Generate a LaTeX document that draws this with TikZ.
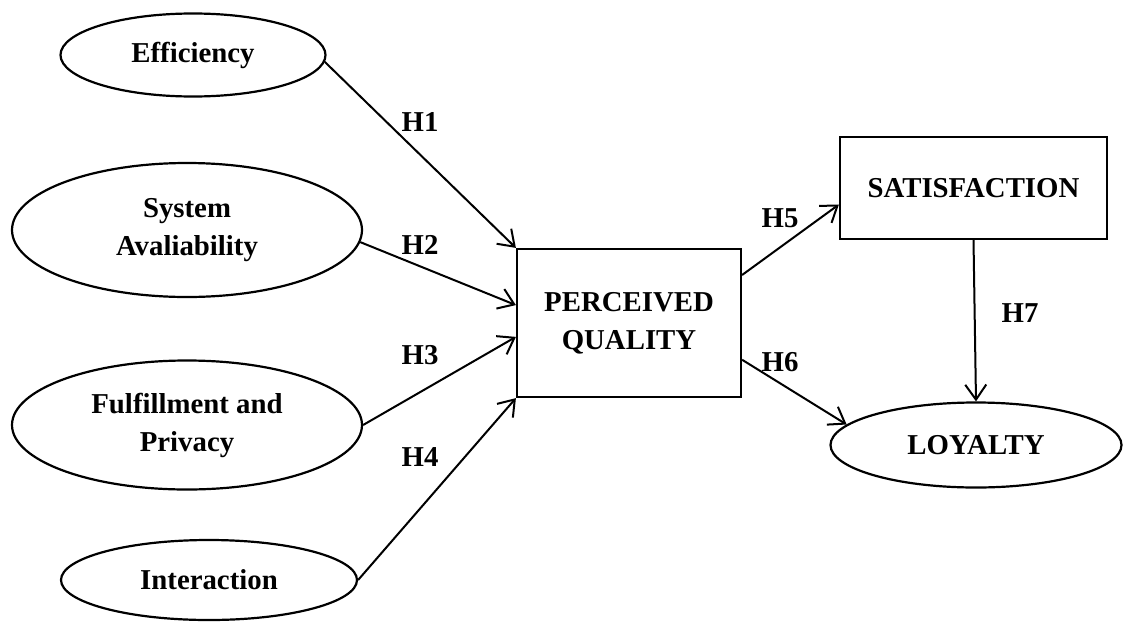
\documentclass[tikz,border=0pt]{standalone}
\usepackage{fontspec}
\setmainfont{Liberation Serif}
\usetikzlibrary{arrows.meta,shapes.geometric}
\tikzset{
  construct/.style={
    draw=black,
    ellipse,
    line width=1.1pt,
    inner sep=0pt,
    align=center,
    font=\bfseries\fontsize{14.4}{19}\selectfont
  },
  block/.style={
    draw=black,
    rectangle,
    line width=1.1pt,
    inner sep=0pt,
    align=center,
    font=\bfseries\fontsize{14.4}{19}\selectfont
  },
  link/.style={-{Straight Barb[length=7.5pt,width=10.5pt]}, line width=1pt},
  hyp/.style={inner sep=0pt, font=\bfseries\fontsize{14.4}{19}\selectfont}
}

\begin{document}
\begin{tikzpicture}[x=0.5pt, y=-0.5pt]
  \useasboundingbox (0,0) rectangle (1123,621);
  % dimensions
  \node[construct, minimum width=132.5pt, minimum height=41.5pt] (eff) at (193,55)  {Efficiency};
  \node[construct, minimum width=175pt,   minimum height=67pt]   (sys) at (187,230) {System\\Avaliability};
  \node[construct, minimum width=175pt,   minimum height=64.5pt] (ful) at (187,425) {Fulfillment and\\Privacy};
  \node[construct, minimum width=148pt,   minimum height=40pt]   (int) at (209,580) {Interaction};
  % outcomes
  \node[block, minimum width=112pt,   minimum height=74pt] (pq)  at (629,323)   {PERCEIVED\\QUALITY};
  \node[block, minimum width=133.5pt, minimum height=51pt] (sat) at (973.5,188) {SATISFACTION};
  \node[construct, minimum width=145.5pt, minimum height=42.5pt] (loy) at (976,445) {LOYALTY};
  % hypotheses
  \draw[link] (eff.-3)  -- (pq.north west);
  \draw[link] (sys.-4)  -- (pq.171);
  \draw[link] (ful.east) -- (pq.187);
  \draw[link] (int.east) -- (pq.south west);
  \draw[link] (pq.23)   -- (sat.187);
  \draw[link] (pq.-18)  -- (loy.171);
  \draw[link] (sat.south) -- (loy.north);
  \node[hyp] (h1) at (420,122) {H1};
  \node[hyp] (h2) at (420,245) {H2};
  \node[hyp] (h3) at (420,355) {H3};
  \node[hyp] (h4) at (420,457) {H4};
  \node[hyp] (h5) at (780,218) {H5};
  \node[hyp] (h6) at (780,362) {H6};
  \node[hyp] (h7) at (1020,313) {H7};
\end{tikzpicture}
\end{document}
